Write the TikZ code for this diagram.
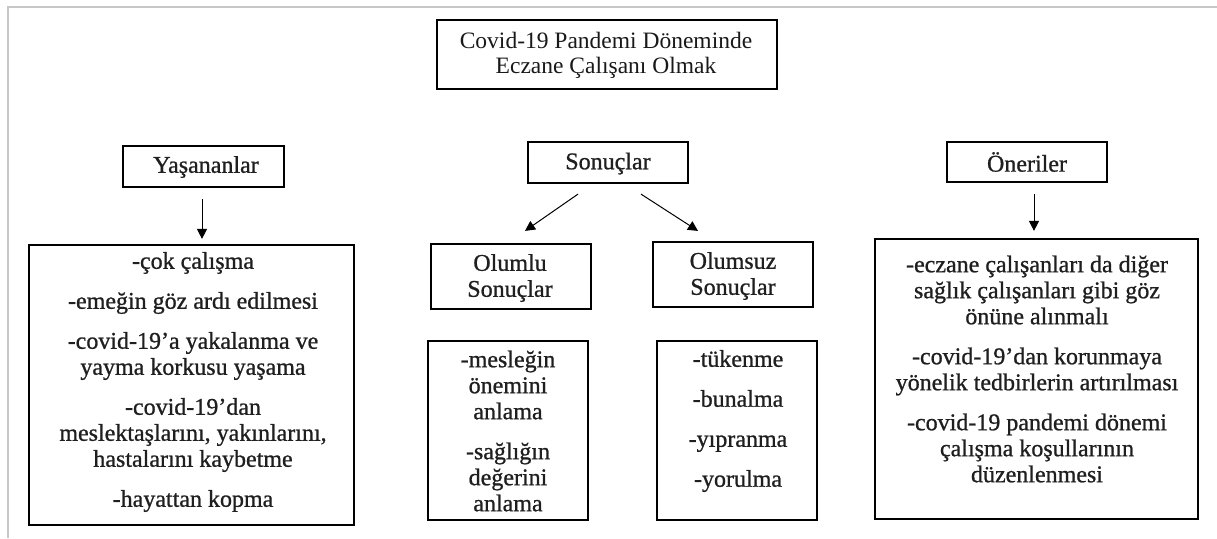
\documentclass[tikz,border=0pt]{standalone}
\usepackage{fontspec}
\setmainfont{Liberation Serif}
\newfontfamily\heavyserif[FakeBold=0.9]{Liberation Serif}
\usetikzlibrary{arrows.meta}
\tikzset{
  frame/.style={draw=black, line width=1.1pt, inner sep=0pt},
  txt/.style={align=center, font=\heavyserif\fontsize{12}{13}\selectfont, inner sep=0pt, text=black!88},
  ttl/.style={align=center, font=\fontsize{11.75}{12.5}\selectfont, inner sep=0pt, text=black!90},
  arr/.style={line width=0.5pt, -{Triangle[width=5pt,length=5pt]}}
}
\begin{document}
\begin{tikzpicture}[x=0.5pt,y=-0.5pt]
\useasboundingbox (0,0) rectangle (1217,538);
% outer light frame
\draw[black!22, line width=0.6pt] (8,538) -- (8,7) -- (1217,7);

% title
\node[frame, line width=1.3pt, minimum width=170pt, minimum height=34.5pt] (title) at (607,54.5) {};
\node[ttl] (titlet) at (606,55.5) {Covid-19 Pandemi Döneminde\\Eczane Çalışanı Olmak};

% column heads
\node[frame, minimum width=80.5pt, minimum height=20.5pt] (yas) at (203.5,166.5) {};
\node[txt] (yast) at (206,167) {Yaşananlar};
\node[frame, minimum width=80pt, minimum height=20.5pt] (son) at (608,162.5) {};
\node[txt] (sont) at (608,163.5) {Sonuçlar};
\node[frame, minimum width=80pt, minimum height=20pt] (onr) at (1027,162) {};
\node[txt] (onrt) at (1027,162) {Öneriler};

% second level
\node[frame, minimum width=80pt, minimum height=32.5pt] (olumlu) at (511,276.5) {};
\node[txt] (olumlut) at (510,278) {Olumlu\\Sonuçlar};
\node[frame, minimum width=80pt, minimum height=32.5pt] (olumsuz) at (733,274.5) {};
\node[txt] (olumsuzt) at (733,276) {Olumsuz\\Sonuçlar};

% list boxes
\node[frame, minimum width=162.5pt, minimum height=140pt] (lbox) at (191.5,385) {};
\node[txt] (lboxt) at (193,382) {-çok çalışma\\[7pt]
-emeğin göz ardı edilmesi\\[7pt]
-covid-19’a yakalanma ve\\yayma korkusu yaşama\\[7pt]
-covid-19’dan\\meslektaşlarını, yakınlarını,\\hastalarını kaybetme\\[7pt]
-hayattan kopma};

\node[frame, minimum width=80pt, minimum height=89.5pt] (pbox) at (508,430.5) {};
\node[txt] (pboxt) at (508,431) {-mesleğin\\önemini\\anlama\\[7pt]-sağlığın\\değerini\\anlama};

\node[frame, minimum width=80pt, minimum height=89.5pt] (nbox) at (737,430.5) {};
\node[txt] (nboxt) at (738,421) {-tükenme\\[7pt]-bunalma\\[7pt]-yıpranma\\[7pt]-yorulma};

\node[frame, minimum width=161.5pt, minimum height=140pt] (obox) at (1036.5,379) {};
\node[txt] (oboxt) at (1037,369) {-eczane çalışanları da diğer\\sağlık çalışanları gibi göz\\önüne alınmalı\\[7pt]
-covid-19’dan korunmaya\\yönelik tedbirlerin artırılması\\[7pt]
-covid-19 pandemi dönemi\\çalışma koşullarının\\düzenlenmesi};

% arrows
\draw[arr, shorten <=5.5pt, shorten >=2.5pt] ([xshift=-0.75pt]yas.south) -- ([xshift=-0.75pt]yas.south |- lbox.north);
\draw[arr] ([xshift=-15pt,yshift=-5pt]son.south) -- ([xshift=7pt,yshift=6pt]olumlu.north);
\draw[arr] ([xshift=16.5pt,yshift=-5pt]son.south) -- ([xshift=-17.5pt,yshift=5pt]olumsuz.north);
\draw[arr, shorten <=5.5pt, shorten >=3.5pt] ([xshift=3.5pt]onr.south) -- ([xshift=3.5pt]onr.south |- obox.north);
\end{tikzpicture}
\end{document}
